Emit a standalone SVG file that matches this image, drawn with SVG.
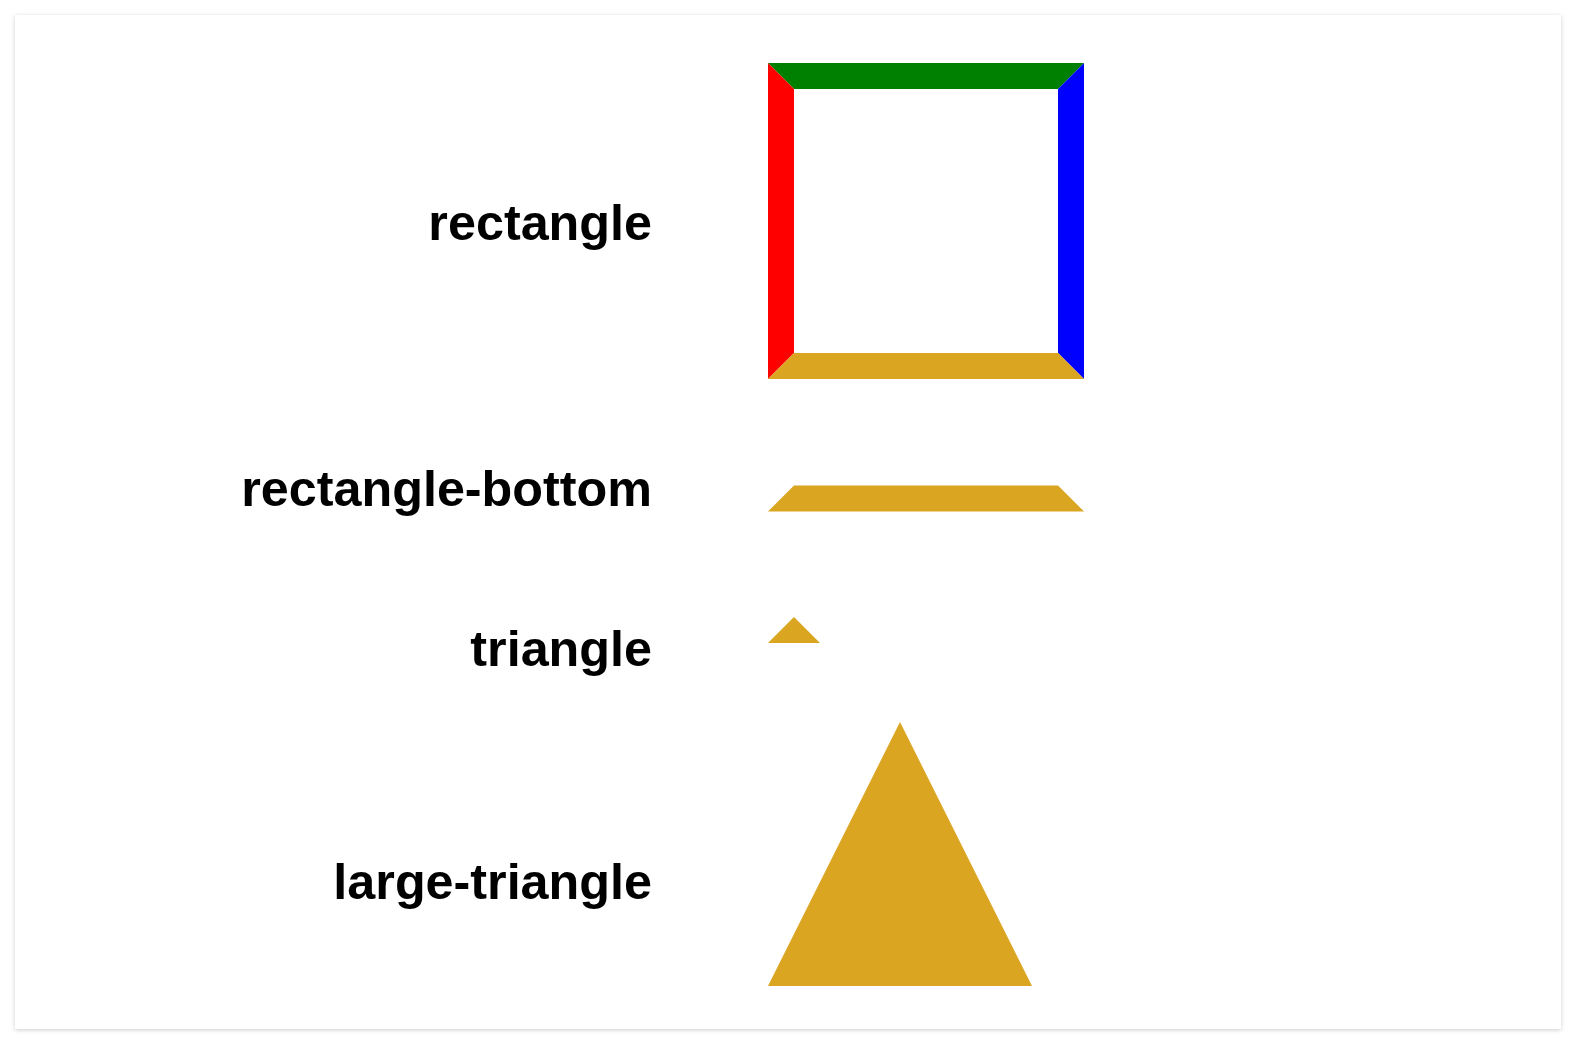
<svg xmlns="http://www.w3.org/2000/svg" width="1576" height="1044" viewBox="0 0 1576 1044">
  <style>
    .label { font-family: "Liberation Sans", Arial, sans-serif; font-weight: bold; font-size: 50.3px; fill: #000; text-anchor: end; }
    .gold { fill: #daa520; }
  </style>
  <defs>
    <filter id="shadow" x="-5%" y="-5%" width="110%" height="110%">
      <feDropShadow dx="0" dy="1" stdDeviation="2" flood-color="#000" flood-opacity="0.2"/>
    </filter>
  </defs>
  <rect x="0" y="0" width="1576" height="1044" fill="#ffffff"/>
  <rect x="15" y="15" width="1546" height="1014" fill="#ffffff" filter="url(#shadow)"/>

  <g id="rectangle">
    <text class="label" x="652" y="240">rectangle</text>
    <polygon points="768,63 1084,63 1058,89 794,89" fill="#008000"/>
    <polygon points="768,63 794,89 794,353 768,379" fill="#ff0000"/>
    <polygon points="1084,63 1084,379 1058,353 1058,89" fill="#0000ff"/>
    <polygon points="768,379 794,353 1058,353 1084,379" class="gold"/>
  </g>

  <g id="rectangle-bottom">
    <text class="label" x="652" y="506">rectangle-bottom</text>
    <polygon points="768,511.5 794,485.5 1058,485.5 1084,511.5" class="gold"/>
  </g>

  <g id="triangle">
    <text class="label" x="652" y="666">triangle</text>
    <polygon points="768,643 794,617 820,643" class="gold"/>
  </g>

  <g id="large-triangle">
    <text class="label" x="652" y="899">large-triangle</text>
    <polygon points="768,986 900,722 1032,986" class="gold"/>
  </g>

  <g id="connectors"></g>
</svg>
